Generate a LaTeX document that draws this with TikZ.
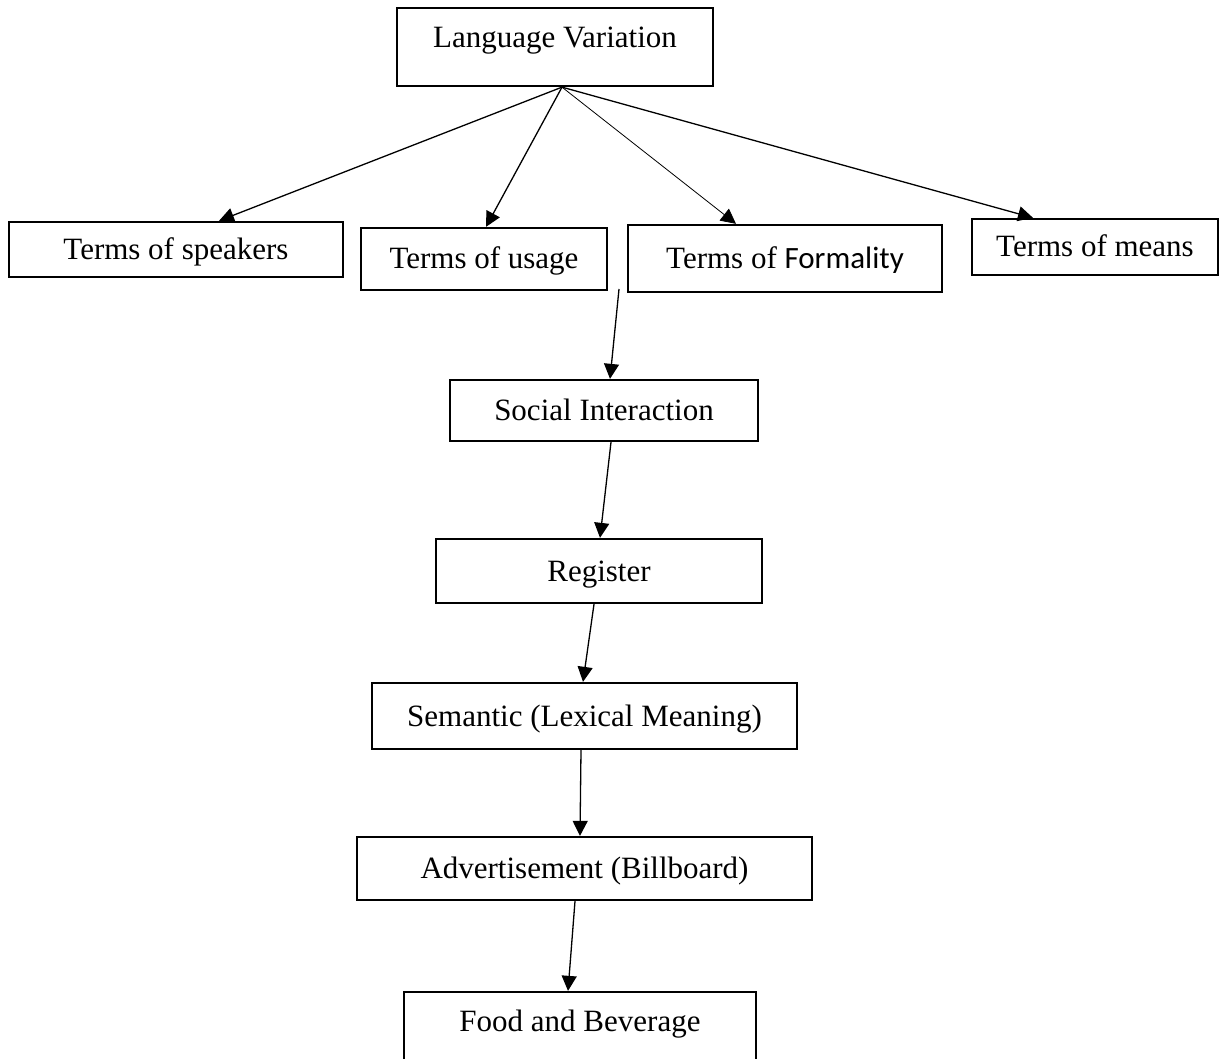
\documentclass[tikz,border=0pt]{standalone}
\usepackage{fontspec}
\setmainfont{Liberation Serif}
\newfontfamily\calib{Carlito}
\usetikzlibrary{arrows.meta,calc}
\tikzset{
  box/.style={draw, line width=2.3pt, inner sep=0pt, anchor=center,
    font=\fontsize{31}{37}\selectfont, text height=24pt, text depth=4pt},
  conn/.style={line width=1.3pt, -{Triangle[length=15pt,width=15pt]}},
  thinconn/.style={conn, line width=0.8pt}
}
\begin{document}
\begin{tikzpicture}[x=1pt,y=-1pt]
\useasboundingbox (0,0) rectangle (1228,1059);
\node[box, minimum width=316pt, minimum height=78pt, text depth=22pt] (lv) at (555,47) {Language Variation};
\node[box, minimum width=334pt, minimum height=55pt] (spk) at (176,249.5) {Terms of speakers};
\node[box, minimum width=246pt, minimum height=62pt] (use) at (484,259) {Terms of usage};
\node[box, minimum width=314pt, minimum height=67pt] (frm) at (785,258.5) {Terms of {\calib Formality}};
\node[box, minimum width=246pt, minimum height=56pt] (mns) at (1095,247) {Terms of means};
\node[box, minimum width=308pt, minimum height=61pt] (soc) at (604,410.5) {Social Interaction};
\node[box, minimum width=326pt, minimum height=64pt] (reg) at (599,571) {Register};
\node[box, minimum width=425pt, minimum height=66pt] (sem) at (584.5,716) {Semantic (Lexical Meaning)};
\node[box, minimum width=455pt, minimum height=63pt] (adv) at (584.5,868.5) {Advertisement (Billboard)};
\node[box, minimum width=352pt, minimum height=73pt, text depth=19pt] (food) at (580,1028.5) {Food and Beverage};
\coordinate (src) at ($(lv.south)+(7,0)$);
\coordinate (fstart) at (619,289);
\draw[conn] (src) -- ($(spk.north)+(43,0)$);
\draw[conn] (src) -- ($(use.north)+(2,0)$);
\draw[thinconn] (src) -- ($(frm.north)+(-49,0)$);
\draw[conn] (src) -- ($(mns.north)+(-62,0)$);
\draw[conn] (fstart) -- ($(soc.north)+(6,0)$);
\draw[conn] ($(soc.south)+(7,0)$) -- ($(reg.north)+(1,0)$);
\draw[conn] ($(reg.south)+(-5,0)$) -- ($(sem.north)+(-1.5,0)$);
\draw[conn] ($(sem.south)+(-3.5,0)$) -- ($(adv.north)+(-4.5,0)$);
\draw[conn] ($(adv.south)+(-9.5,0)$) -- ($(food.north)+(-12,0)$);
\end{tikzpicture}
\end{document}
